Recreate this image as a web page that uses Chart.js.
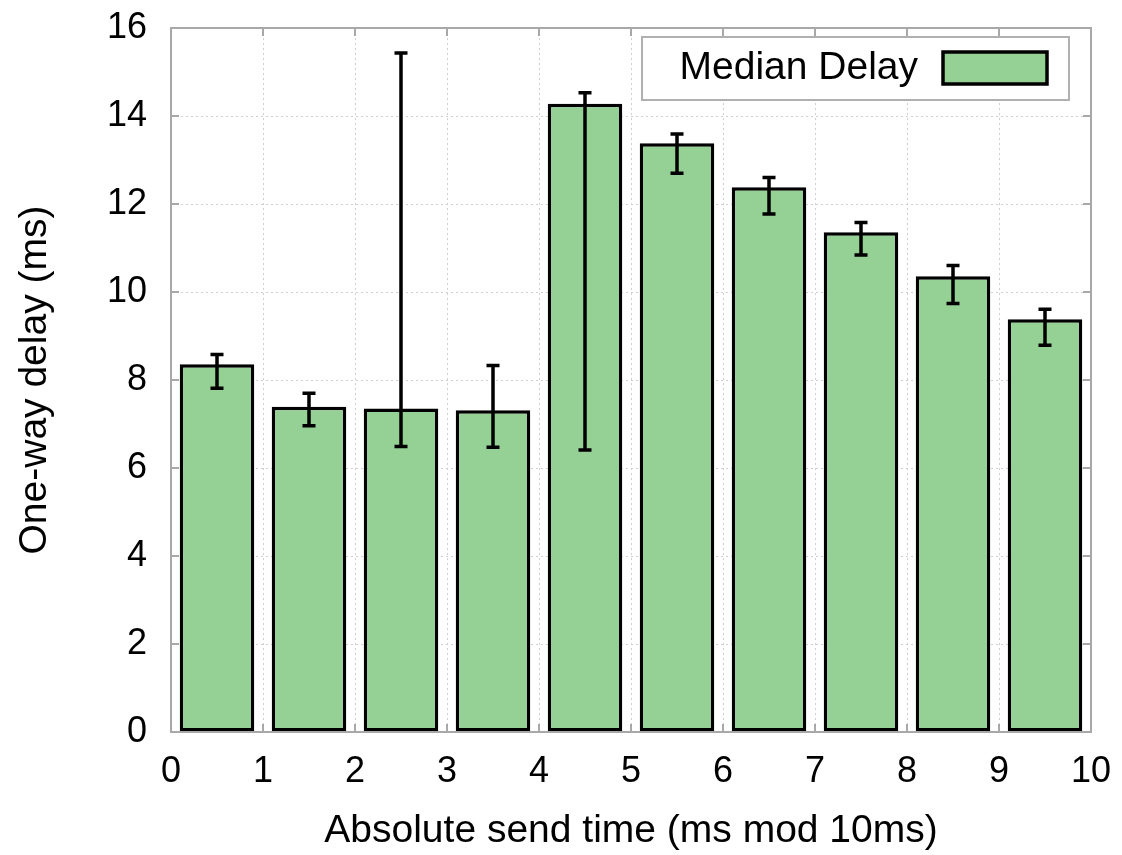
<!DOCTYPE html>
<html>
<head>
<meta charset="utf-8">
<script src="https://cdn.jsdelivr.net/npm/chart.js@4/dist/chart.umd.min.js"></script>
<style>
  html, body { margin: 0; padding: 0; background: #fff; }
  #wrap { width: 1122px; height: 855px; }
</style>
</head>
<body>
<div id="wrap"><canvas id="chart" width="1122" height="855"></canvas></div>
<script>
// values
const slots = ['0', '1', '2', '3', '4', '5', '6', '7', '8', '9'];
const medianDelay = [8.36, 7.39, 7.35, 7.31, 14.28, 13.38, 12.38, 11.36, 10.36, 9.38];
const errLow  = [7.81, 6.96, 6.49, 6.47, 6.41, 12.70, 11.77, 10.84, 9.74, 8.79];
const errHigh = [8.58, 7.70, 15.43, 8.33, 14.53, 13.59, 12.60, 11.58, 10.60, 9.61];

const FONT = "'Liberation Sans', Arial, sans-serif";
const barFill = '#95d095';
const frameColor = '#a8a8a8';

// error bars, frame, inner ticks and the boxed legend
const extras = {
  id: 'extras',
  afterDatasetsDraw(chart) {
    const ctx = chart.ctx;
    const y = chart.scales.y;
    const meta = chart.getDatasetMeta(0);
    ctx.save();
    ctx.strokeStyle = '#000';
    ctx.lineWidth = 3.5;
    meta.data.forEach((bar, i) => {
      const yHi = y.getPixelForValue(errHigh[i]);
      const yLo = y.getPixelForValue(errLow[i]);
      ctx.beginPath();
      ctx.moveTo(bar.x, yHi); ctx.lineTo(bar.x, yLo);
      ctx.moveTo(bar.x - 6.5, yHi); ctx.lineTo(bar.x + 6.5, yHi);
      ctx.moveTo(bar.x - 6.5, yLo); ctx.lineTo(bar.x + 6.5, yLo);
      ctx.stroke();
    });
    ctx.restore();
  },
  afterDraw(chart) {
    const ctx = chart.ctx;
    const a = chart.chartArea;
    const y = chart.scales.y;
    const x2 = chart.scales.x2;
    ctx.save();
    // inner tick marks
    ctx.strokeStyle = frameColor;
    ctx.lineWidth = 2;
    ctx.beginPath();
    y.ticks.forEach(t => {
      const py = y.getPixelForValue(t.value);
      ctx.moveTo(a.left, py); ctx.lineTo(a.left + 8, py);
      ctx.moveTo(a.right, py); ctx.lineTo(a.right - 8, py);
    });
    x2.ticks.forEach(t => {
      const px = x2.getPixelForValue(t.value);
      ctx.moveTo(px, a.top); ctx.lineTo(px, a.top + 8);
      ctx.moveTo(px, a.bottom); ctx.lineTo(px, a.bottom - 8);
    });
    ctx.stroke();
    // frame
    ctx.strokeRect(a.left, a.top, a.right - a.left, a.bottom - a.top);

    // legend
    const lx = 642, ly = 37, lw = 427, lh = 63;
    ctx.fillStyle = '#fff';
    ctx.fillRect(lx, ly, lw, lh);
    ctx.strokeStyle = '#b0b0b0';
    ctx.lineWidth = 2;
    ctx.strokeRect(lx, ly, lw, lh);
    const ds = chart.data.datasets[0];
    ctx.fillStyle = '#000';
    ctx.font = '39px ' + FONT;
    ctx.textAlign = 'right';
    ctx.textBaseline = 'middle';
    ctx.fillText(ds.label, 918, 68);
    ctx.fillStyle = ds.backgroundColor;
    ctx.fillRect(943, 52, 104, 32);
    ctx.strokeStyle = '#000';
    ctx.lineWidth = 3.5;
    ctx.strokeRect(943, 52, 104, 32);
    ctx.restore();
  }
};

new Chart(document.getElementById('chart'), {
  type: 'bar',
  data: {
    labels: slots,
    datasets: [{
      label: 'Median Delay',
      data: medianDelay,
      backgroundColor: barFill,
      borderColor: '#000',
      borderWidth: 3.5,
      borderSkipped: false,
      categoryPercentage: 1,
      barPercentage: 0.81
    }]
  },
  options: {
    responsive: false,
    animation: false,
    devicePixelRatio: 1,
    layout: { padding: { top: 28, right: 31, left: 0, bottom: 0 } },
    plugins: {
      legend: { display: false },
      tooltip: { enabled: false }
    },
    scales: {
      x: {
        type: 'category',
        offset: true,
        display: false
      },
      x2: {
        type: 'linear',
        position: 'bottom',
        offset: false,
        min: 0,
        max: 10,
        ticks: {
          stepSize: 1,
          color: '#000',
          padding: 18,
          font: { family: FONT, size: 36 }
        },
        grid: { color: '#d0d0d0', offset: false, drawTicks: false, lineWidth: 1 },
        border: { display: false, dash: [2, 3] },
        title: {
          display: true,
          text: 'Absolute send time (ms mod 10ms)',
          color: '#000',
          font: { family: FONT, size: 39 },
          padding: { top: 10, bottom: 0 }
        },
        afterFit(scale) {
          scale.height = 123;
          scale.paddingLeft = 0;
          scale.paddingRight = 0;
        }
      },
      y: {
        min: 0,
        max: 16,
        ticks: {
          stepSize: 2,
          color: '#000',
          padding: 24,
          font: { family: FONT, size: 36 }
        },
        grid: { color: '#d0d0d0', drawTicks: false, lineWidth: 1 },
        border: { display: false, dash: [2, 3] },
        title: {
          display: true,
          text: 'One-way delay (ms)',
          color: '#000',
          font: { family: FONT, size: 39 },
          padding: { top: 12, bottom: 0 }
        },
        afterFit(scale) {
          scale.width = 171;
          scale.paddingTop = 0;
          scale.paddingBottom = 0;
        }
      }
    }
  },
  plugins: [extras]
});
</script>
</body>
</html>
